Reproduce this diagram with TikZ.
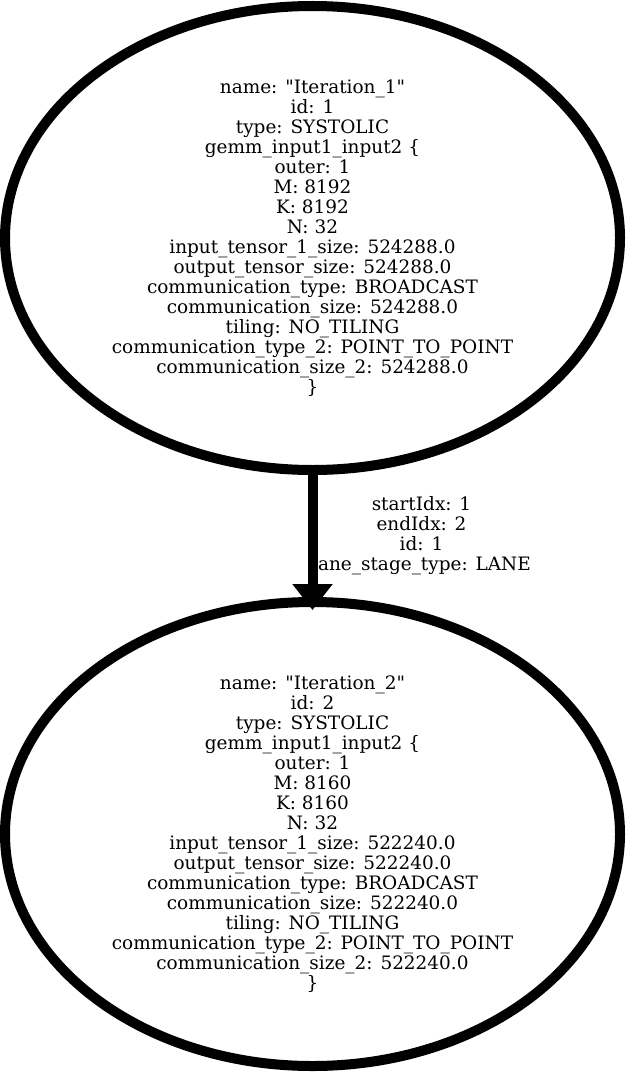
\documentclass[tikz,border=0pt]{standalone}
\usepackage{fontspec}
\setmainfont{DejaVu Serif}[Ligatures=TeXOff]
\usetikzlibrary{arrows.meta,shapes.geometric}
\begin{document}
\begin{tikzpicture}[x=0.75pt,y=-0.75pt,
  statenode/.style={ellipse,draw=black,line width=7.5pt,inner sep=0pt,outer sep=0pt,
    minimum width=461.25pt,minimum height=348pt,align=center,
    font=\fontsize{13.85pt}{15pt}\selectfont},
  edgelabel/.style={align=center,inner sep=0pt,font=\fontsize{13.85pt}{15pt}\selectfont},
  conn/.style={line width=7.5pt,-{Triangle[length=19.5pt,width=29pt]},shorten >=-6pt}]
\useasboundingbox (0,0) rectangle (625,1074);
\node[statenode] (it1) at (312.5,238) {name: "Iteration\_1"\\id: 1\\type: SYSTOLIC\\gemm\_input1\_input2 \{\\outer: 1\\M: 8192\\K: 8192\\N: 32\\input\_tensor\_1\_size: 524288.0\\output\_tensor\_size: 524288.0\\communication\_type: BROADCAST\\communication\_size: 524288.0\\tiling: NO\_TILING\\communication\_type\_2: POINT\_TO\_POINT\\communication\_size\_2: 524288.0\\\}};
\node[statenode] (it2) at (312.5,834) {name: "Iteration\_2"\\id: 2\\type: SYSTOLIC\\gemm\_input1\_input2 \{\\outer: 1\\M: 8160\\K: 8160\\N: 32\\input\_tensor\_1\_size: 522240.0\\output\_tensor\_size: 522240.0\\communication\_type: BROADCAST\\communication\_size: 522240.0\\tiling: NO\_TILING\\communication\_type\_2: POINT\_TO\_POINT\\communication\_size\_2: 522240.0\\\}};
\draw[conn] (it1.south) -- (it2.north);
\node[edgelabel] (lbl) at (421.5,536) {startIdx: 1\\endIdx: 2\\id: 1\\lane\_stage\_type: LANE};
\end{tikzpicture}
\end{document}
